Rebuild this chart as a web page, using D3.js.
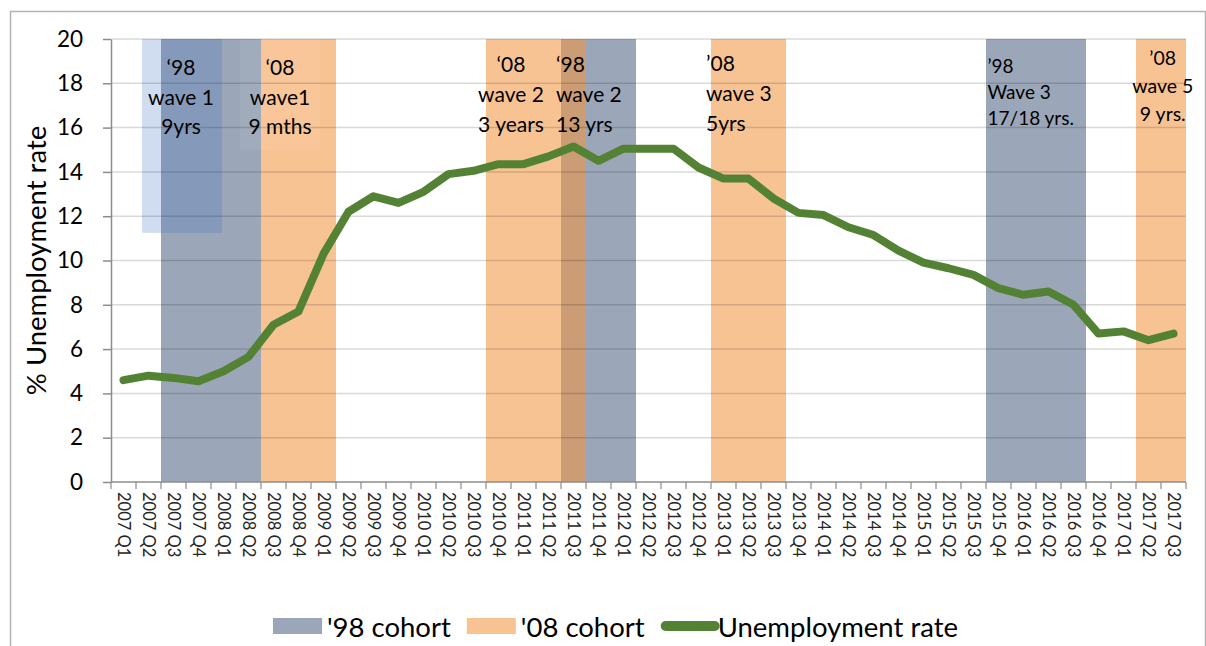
<!DOCTYPE html>
<html>
<head>
<meta charset="utf-8">
<script src="https://cdn.jsdelivr.net/npm/d3@7"></script>
<style>
  body { margin: 0; background: #fff; }
  svg { display: block; font-family: Lato, "Open Sans", sans-serif; }
</style>
</head>
<body>
<svg></svg>
<script>
const size = { w: 1206, h: 646 };
const plot = { l: 111, r: 1186, t: 39, b: 482 };

// quarters on the x axis
const quarters = [
	"2007 Q1", "2007 Q2", "2007 Q3", "2007 Q4",
	"2008 Q1", "2008 Q2", "2008 Q3", "2008 Q4",
	"2009 Q1", "2009 Q2", "2009 Q3", "2009 Q4",
	"2010 Q1", "2010 Q2", "2010 Q3", "2010 Q4",
	"2011 Q1", "2011 Q2", "2011 Q3", "2011 Q4",
	"2012 Q1", "2012 Q2", "2012 Q3", "2012 Q4",
	"2013 Q1", "2013 Q2", "2013 Q3", "2013 Q4",
	"2014 Q1", "2014 Q2", "2014 Q3", "2014 Q4",
	"2015 Q1", "2015 Q2", "2015 Q3", "2015 Q4",
	"2016 Q1", "2016 Q2", "2016 Q3", "2016 Q4",
	"2017 Q1", "2017 Q2", "2017 Q3"
];

// % unemployment rate
const rate = [
	4.6, 4.8, 4.7, 4.55,
	5.0, 5.65, 7.1, 7.7,
	10.3, 12.2, 12.9, 12.6,
	13.1, 13.9, 14.05, 14.35,
	14.35, 14.7, 15.15, 14.5,
	15.05, 15.05, 15.05, 14.2,
	13.7, 13.7, 12.8, 12.15,
	12.05, 11.5, 11.15, 10.45,
	9.9, 9.65, 9.35, 8.75,
	8.45, 8.6, 8.0, 6.7,
	6.8, 6.4, 6.7
];

const yTicks = [0, 2, 4, 6, 8, 10, 12, 14, 16, 18, 20];

// survey waves (shaded periods)
const cohort98 = [
	{ from: "2007 Q3", to: "2008 Q2" },
	{ from: "2011 Q3", to: "2012 Q1" },
	{ from: "2015 Q4", to: "2016 Q3" }
];
const cohort08 = [
	{ from: "2008 Q3", to: "2009 Q1" },
	{ from: "2010 Q4", to: "2011 Q3" },
	{ from: "2013 Q1", to: "2013 Q3" },
	{ from: "2017 Q2", to: "2017 Q3" }
];

// text boxes (x in quarter units, y in % units)
const boxes = [
	{ x0: 1.24, x1: 4.44, y0: 11.25, y1: 20, fill: "#4472c4", op: 0.25 },
	{ x0: 5.16, x1: 8.37, y0: 15.0, y1: 20, fill: "#ffffff", op: 0.05 }
];

const notes = [
	{ lines: ["\u201898", "wave 1", "9yrs"], x: 2.8, y: 18.74, anchor: "middle", fs: 21, gap: 29.5 },
	{ lines: ["\u201808", "wave1", "9 mths"], x: 6.76, y: 18.74, anchor: "middle", fs: 21, gap: 29.5 },
	{ lines: ["\u201808", "wave 2", "3 years"], x: 16.0, y: 18.9, anchor: "middle", fs: 21, gap: 30 },
	{ lines: ["\u201898", "wave 2", "13 yrs"], x: 17.8, y: 18.9, anchor: "start", fs: 21, gap: 30 },
	{ lines: ["\u201908", "wave 3", "5yrs"], x: 23.8, y: 18.96, anchor: "start", fs: 21, gap: 30 },
	{ lines: ["\u201998", "Wave 3", "17/18 yrs."], x: 35.06, y: 18.82, anchor: "start", fs: 19, gap: 26 },
	{ lines: ["\u201908", "wave 5", "9 yrs."], x: 42.07, y: 19.18, anchor: "middle", fs: 19.5, gap: 28 }
];

const legendItems = [
	{ label: "'98 cohort", type: "rect", color: "#9ba7b8" },
	{ label: "'08 cohort", type: "rect", color: "#f8c393" },
	{ label: "Unemployment rate", type: "line", color: "#548235" }
];

const svg = d3.select("svg").attr("width", size.w).attr("height", size.h);

// outer frame
svg.append("rect")
	.attr("x", 10.5).attr("y", 11.5)
	.attr("width", 1195).attr("height", 660)
	.attr("fill", "none").attr("stroke", "#b3b3b3").attr("stroke-width", 1.5);

const x = d3.scaleBand().domain(quarters).range([plot.l, plot.r]).padding(0);
const xu = d3.scaleLinear().domain([0, quarters.length]).range([plot.l, plot.r]);
const y = d3.scaleLinear().domain([0, 20]).range([plot.b, plot.t]);
const bw = x.bandwidth();

// bands
const bandG = svg.append("g");
bandG.selectAll("rect.b98")
	.data(cohort98).enter().append("rect")
	.attr("x", d => x(d.from))
	.attr("width", d => x(d.to) + bw - x(d.from))
	.attr("y", y(20)).attr("height", y(0) - y(20))
	.attr("fill", "#9ba7b8");
bandG.selectAll("rect.b08")
	.data(cohort08).enter().append("rect")
	.attr("x", d => x(d.from))
	.attr("width", d => x(d.to) + bw - x(d.from))
	.attr("y", y(20)).attr("height", y(0) - y(20))
	.attr("fill", "#f2943e").attr("fill-opacity", 0.56);

bandG.selectAll("rect.box")
	.data(boxes).enter().append("rect")
	.attr("x", d => xu(d.x0))
	.attr("width", d => xu(d.x1) - xu(d.x0))
	.attr("y", d => y(d.y1))
	.attr("height", d => y(d.y0) - y(d.y1))
	.attr("fill", d => d.fill).attr("fill-opacity", d => d.op);

// gridlines
svg.append("g").selectAll("line")
	.data(yTicks.filter(v => v > 0)).enter().append("line")
	.attr("x1", plot.l).attr("x2", plot.r)
	.attr("y1", d => y(d)).attr("y2", d => y(d))
	.attr("stroke", "#000").attr("stroke-opacity", 0.15).attr("stroke-width", 1.5);

// y axis
const yAxis = svg.append("g")
	.attr("transform", `translate(${plot.l},0)`)
	.call(d3.axisLeft(y).tickValues(yTicks).tickSize(8).tickPadding(20).tickSizeOuter(0));
yAxis.select(".domain").attr("stroke", "#8c8c8c").attr("stroke-width", 1.5);
yAxis.selectAll(".tick line").attr("stroke", "#8c8c8c").attr("stroke-width", 1.5);
yAxis.selectAll(".tick text")
	.attr("font-family", "Lato").attr("font-size", 22.5).attr("fill", "#000");

// x axis
const xAxis = svg.append("g");
xAxis.append("line")
	.attr("x1", plot.l).attr("x2", plot.r)
	.attr("y1", plot.b).attr("y2", plot.b)
	.attr("stroke", "#8c8c8c").attr("stroke-width", 1.5);
xAxis.selectAll("line.tk")
	.data(d3.range(quarters.length + 1)).enter().append("line")
	.attr("x1", d => xu(d)).attr("x2", d => xu(d))
	.attr("y1", plot.b).attr("y2", plot.b + 7)
	.attr("stroke", "#8c8c8c").attr("stroke-width", 1.2);
xAxis.selectAll("text")
	.data(quarters).enter().append("text")
	.attr("transform", d => `translate(${x(d) + bw / 2},${plot.b + 10}) rotate(90)`)
	.attr("dominant-baseline", "central")
	.attr("font-size", 16.5)
	.attr("fill", "#262626")
	.text(d => d);

// y title
svg.append("text")
	.attr("transform", `translate(35,${(plot.t + plot.b) / 2}) rotate(-90)`)
	.attr("text-anchor", "middle")
	.attr("dominant-baseline", "central")
	.attr("font-size", 27.5)
	.attr("fill", "#000")
	.text("% Unemployment rate");

// annotations
const noteG = svg.append("g");
notes.forEach(n => {
	const t = noteG.append("text")
		.attr("text-anchor", n.anchor)
		.attr("font-size", n.fs)
		.attr("fill", "#000");
	n.lines.forEach((s, i) => {
		t.append("tspan")
			.attr("x", xu(n.x))
			.attr("y", y(n.y) + i * n.gap)
			.attr("dominant-baseline", "central")
			.text(s);
	});
});

// unemployment line
const line = d3.line()
	.x((d, i) => x(quarters[i]) + bw / 2)
	.y(d => y(d));
svg.append("path")
	.datum(rate)
	.attr("d", line)
	.attr("fill", "none")
	.attr("stroke", "#548235")
	.attr("stroke-width", 8)
	.attr("stroke-linejoin", "round")
	.attr("stroke-linecap", "round");

// legend
const legG = svg.append("g").attr("transform", "translate(273,626)");
let lx = 0;
legendItems.forEach(d => {
	const g = legG.append("g").attr("transform", `translate(${lx},0)`);
	if (d.type === "rect") {
		g.append("rect").attr("x", 0).attr("y", -8).attr("width", 49).attr("height", 16).attr("fill", d.color);
	} else {
		g.append("line").attr("x1", 5).attr("x2", 54).attr("y1", 0).attr("y2", 0)
			.attr("stroke", d.color).attr("stroke-width", 10).attr("stroke-linecap", "round");
	}
	const t = g.append("text")
		.attr("x", d.type === "rect" ? 54 : 57)
		.attr("dominant-baseline", "central")
		.attr("font-size", 27.5)
		.attr("fill", "#000")
		.text(d.label);
	lx += (d.type === "rect" ? 54 : 57) + t.node().getComputedTextLength() + 16;
});
</script>
</body>
</html>
